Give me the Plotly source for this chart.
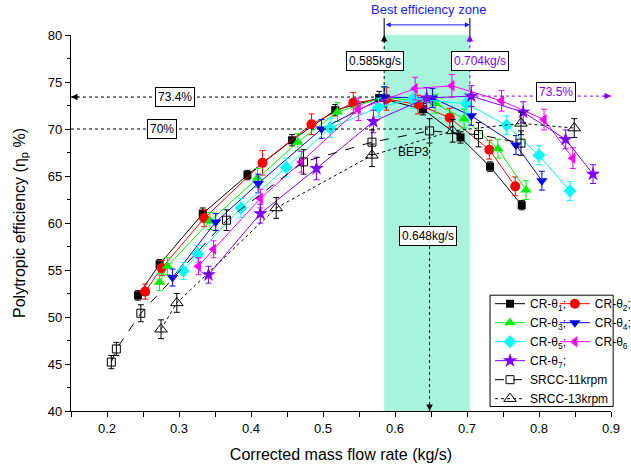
import plotly.graph_objects as go

# ---------------- data ----------------
x_t1 = [0.243, 0.273, 0.333, 0.395, 0.457, 0.517, 0.578, 0.639, 0.691, 0.732, 0.776]
y_t1 = [52.3, 55.6, 61.0, 65.1, 68.8, 72.0, 73.3, 72.1, 69.1, 66.0, 61.9]
e_t1 = [0.5, 0.5, 0.6, 0.5, 0.6, 0.6, 0.7, 0.6, 0.6, 0.5, 0.5]

x_t2 = [0.253, 0.276, 0.335, 0.416, 0.484, 0.542, 0.588, 0.632, 0.676, 0.731, 0.767]
y_t2 = [52.7, 55.2, 60.5, 66.4, 70.5, 72.8, 73.2, 72.6, 71.2, 67.8, 63.9]
e_t2 = [0.8, 0.8, 0.9, 1.3, 1.1, 1.1, 1.2, 1.0, 1.0, 1.0, 1.0]

x_t3 = [0.273, 0.284, 0.343, 0.409, 0.465, 0.520, 0.585, 0.656, 0.696, 0.743, 0.782]
y_t3 = [53.7, 55.4, 60.2, 64.8, 68.6, 71.8, 73.4, 72.7, 71.1, 67.9, 63.5]
e_t3 = [0.9, 0.9, 0.9, 1.0, 0.9, 1.0, 1.0, 1.0, 1.0, 1.0, 1.0]

x_t4 = [0.291, 0.351, 0.410, 0.498, 0.585, 0.652, 0.706, 0.768, 0.804]
y_t4 = [54.2, 60.1, 64.2, 70.0, 73.4, 73.3, 71.4, 68.3, 64.5]
e_t4 = [0.9, 0.9, 1.0, 1.0, 1.1, 1.0, 1.0, 1.0, 1.0]

x_t5 = [0.306, 0.326, 0.386, 0.449, 0.510, 0.577, 0.625, 0.699, 0.755, 0.800, 0.843]
y_t5 = [54.9, 56.7, 61.6, 65.9, 70.1, 72.3, 73.2, 72.7, 70.4, 67.2, 63.4]
e_t5 = [0.9, 0.9, 1.0, 1.0, 1.0, 1.0, 1.0, 1.0, 1.0, 1.0, 1.0]

x_t6 = [0.327, 0.348, 0.413, 0.470, 0.549, 0.628, 0.679, 0.748, 0.807, 0.847]
y_t6 = [55.4, 57.2, 62.6, 66.5, 72.1, 74.3, 74.6, 73.0, 71.0, 66.9]
e_t6 = [0.9, 0.9, 1.0, 1.1, 1.2, 1.2, 1.2, 1.1, 1.1, 1.1]

x_t7 = [0.341, 0.413, 0.491, 0.570, 0.644, 0.706, 0.778, 0.837, 0.875]
y_t7 = [54.5, 61.0, 65.8, 70.8, 73.3, 73.5, 71.8, 68.9, 65.2]
e_t7 = [0.9, 1.0, 1.2, 1.2, 1.1, 1.1, 1.1, 1.0, 1.0]

x_s11 = [0.206, 0.213, 0.247, 0.366, 0.473, 0.568, 0.648, 0.716, 0.775]
y_s11 = [45.2, 46.6, 50.4, 60.3, 66.5, 68.6, 69.8, 69.4, 68.5]
e_s11 = [0.7, 0.7, 0.9, 1.1, 1.3, 1.3, 1.3, 1.3, 1.3]

x_s13 = [0.275, 0.297, 0.435, 0.568, 0.680, 0.775, 0.849]
y_s13 = [48.7, 51.5, 61.6, 67.2, 69.8, 70.6, 70.1]
e_s13 = [1.0, 1.0, 1.1, 1.2, 1.2, 1.2, 1.0]

names = ["CR-θ<sub>1</sub>;", "CR-θ<sub>2</sub>;", "CR-θ<sub>3</sub>;", "CR-θ<sub>4</sub>;",
         "CR-θ<sub>5</sub>;", "CR-θ<sub>6</sub>", "CR-θ<sub>7</sub>;", "SRCC-11krpm", "SRCC-13krpm"]

bep_low, bep_high, bep3 = 0.585, 0.704, 0.648
eff_low, eff_high, eff_bep3 = 73.4, 73.5, 70.0

x_ticks = [0.2, 0.3, 0.4, 0.5, 0.6, 0.7, 0.8, 0.9]
y_ticks = [40, 45, 50, 55, 60, 65, 70, 75, 80]

# ---------------- styling ----------------
FONT = "Arial, Liberation Sans, sans-serif"
PURPLE = "#8000ff"
series = [
    (x_t1, y_t1, e_t1, names[0], "#000000", "square", 8, "solid", "legend"),
    (x_t2, y_t2, e_t2, names[1], "#ff0000", "circle", 10, "solid", "legend2"),
    (x_t3, y_t3, e_t3, names[2], "#00ee00", "triangle-up", 10, "solid", "legend"),
    (x_t4, y_t4, e_t4, names[3], "#0000ff", "triangle-down", 10, "solid", "legend2"),
    (x_t5, y_t5, e_t5, names[4], "#00ffff", "diamond", 10, "solid", "legend"),
    (x_t6, y_t6, e_t6, names[5], "#ff00ff", "triangle-left", 10, "solid", "legend2"),
    (x_t7, y_t7, e_t7, names[6], PURPLE, "star", 11, "solid", "legend"),
    (x_s11, y_s11, e_s11, names[7], "#000000", "square-open", 8, "dash", "legend"),
    (x_s13, y_s13, e_s13, names[8], "#000000", "triangle-up-open", 11, "dot", "legend"),
]

fig = go.Figure()
for xs, ys, es, nm, col, sym, sz, dash, lg in series:
    fig.add_trace(go.Scatter(
        x=xs, y=ys, name=nm, mode="lines+markers", legend=lg,
        line=dict(color=col, width=1, dash=dash),
        marker=dict(symbol=sym, size=sz, color=col, line=dict(width=1 if "open" in sym else 0, color=col)),
        error_y=dict(type="data", array=es, color=col, thickness=1, width=3),
    ))

dot_k = dict(color="black", width=1, dash="dot")
dot_p = dict(color=PURPLE, width=1, dash="dot")
shapes = [
    dict(type="rect", xref="x", yref="paper", x0=bep_low, x1=bep_high, y0=0, y1=1,
         fillcolor="#a8f3dc", line=dict(width=0), layer="below"),
    dict(type="line", xref="x", yref="y", x0=0.15, x1=bep_low, y0=eff_low, y1=eff_low, line=dot_k),
    dict(type="line", xref="x", yref="y", x0=bep_low, x1=bep_low, y0=eff_low, y1=80, line=dot_k),
    dict(type="line", xref="x", yref="y", x0=0.15, x1=bep3, y0=eff_bep3, y1=eff_bep3, line=dot_k),
    dict(type="line", xref="x", yref="y", x0=bep3, x1=bep3, y0=40, y1=eff_bep3, line=dot_k),
    dict(type="line", xref="x", yref="y", x0=bep_high, x1=bep_high, y0=eff_high, y1=80, line=dot_p),
    dict(type="line", xref="x", yref="y", x0=bep_high, x1=0.9, y0=eff_high, y1=eff_high, line=dot_p),
    dict(type="line", xref="x", yref="paper", x0=bep_low, x1=bep_low, y0=1.0, y1=1.045,
         line=dict(color="#202020", width=1.2)),
    dict(type="line", xref="x", yref="paper", x0=bep_high, x1=bep_high, y0=1.0, y1=1.045,
         line=dict(color="#202040", width=1.2)),
    dict(type="rect", xref="paper", yref="paper", x0=0.776, x1=1.004, y0=0.012, y1=0.308,
         fillcolor="white", line=dict(color="black", width=1), layer="above"),
]

def head(x, y, ax, ay, col):
    return dict(x=x, y=y, xref="x", yref="y", ax=ax, ay=ay, text="", showarrow=True,
                arrowhead=2, arrowsize=1.3, arrowwidth=1, arrowcolor=col)

def box(x, y, txt, col="black"):
    return dict(x=x, y=y, xref="x", yref="y", text=txt, showarrow=False,
                xanchor="center", yanchor="middle",
                font=dict(family=FONT, size=12, color=col), bgcolor="white",
                bordercolor="black", borderwidth=1, borderpad=2)

annotations = [
    head(bep_low, 80, 0, 9, "black"),
    head(bep_high, 80, 0, 9, PURPLE),
    head(0.15, eff_low, 9, 0, "black"),
    head(0.9, eff_high, -9, 0, PURPLE),
    head(bep3, 40, 0, -9, "black"),
    box(0.294, eff_low, "73.4%"),
    box(0.276, eff_bep3, "70%"),
    box(0.572, 77.2, "0.585kg/s"),
    box(0.718, 77.2, "0.704kg/s", PURPLE),
    box(0.824, 73.9, "73.5%", PURPLE),
    box(0.646, 58.6, "0.648kg/s"),
    dict(x=0.625, y=67.6, xref="x", yref="y", text="BEP3", showarrow=False,
         xanchor="center", yanchor="middle", font=dict(family=FONT, size=12, color="black")),
    dict(x=(bep_low + bep_high) / 2 + 0.002, y=1.069, xref="x", yref="paper", text="Best efficiency zone",
         showarrow=False, xanchor="center", yanchor="middle",
         font=dict(family=FONT, size=13, color="#1a1aff")),
    dict(x=bep_high, y=1.027, xref="x", yref="paper", ax=bep_low, axref="x", ay=0, ayref="pixel",
         text="", showarrow=True, arrowhead=2, arrowside="end+start", arrowsize=1,
         arrowwidth=1, arrowcolor="#1a1aff"),
]

axis_common = dict(showline=True, linecolor="black", linewidth=1.3, showgrid=False, zeroline=False,
                   tickfont=dict(family=FONT, size=13, color="black"))

fig.update_layout(
    width=631, height=472,
    margin=dict(l=71, r=20, t=35, b=61, autoexpand=False),
    paper_bgcolor="white", plot_bgcolor="white",
    font=dict(family=FONT, color="black"),
    showlegend=True,
    xaxis=dict(range=[0.15, 0.9], tickvals=x_ticks, ticktext=[str(v) for v in x_ticks],
               ticks="outside", ticklen=5, tickcolor="black",
               minor=dict(dtick=0.05, tick0=0.15, ticks="outside", ticklen=5, tickcolor="black"),
               title=dict(text="Corrected mass flow rate (kg/s)", font=dict(family=FONT, size=16), standoff=14),
               **axis_common),
    yaxis=dict(range=[40, 80], tickvals=y_ticks, ticks="outside", ticklen=5, tickcolor="black",
               minor=dict(dtick=2.5, tick0=40, ticks="outside", ticklen=3, tickcolor="black"),
               title=dict(text="Polytropic efficiency (η<sub>p</sub> %)", font=dict(family=FONT, size=16), standoff=18),
               **axis_common),
    xaxis2=dict(overlaying="x", matches="x", side="top", anchor="y", showticklabels=False,
                range=[0.15, 0.9], tickvals=x_ticks, ticks="inside", ticklen=5, tickcolor="black",
                minor=dict(dtick=0.05, tick0=0.15, ticks="inside", ticklen=5, tickcolor="black"),
                **axis_common),
    yaxis2=dict(overlaying="y", matches="y", side="right", anchor="x", showticklabels=False,
                range=[40, 80], tickvals=y_ticks, ticks="inside", ticklen=5, tickcolor="black",
                minor=dict(dtick=2.5, tick0=40, ticks="inside", ticklen=3, tickcolor="black"),
                **axis_common),
    legend=dict(x=0.776, y=0.324, xanchor="left", yanchor="top", bgcolor="rgba(0,0,0,0)",
                borderwidth=0, font=dict(family=FONT, size=12, color="black"),
                itemwidth=30, tracegroupgap=0),
    legend2=dict(x=0.896, y=0.324, xanchor="left", yanchor="top", bgcolor="rgba(0,0,0,0)",
                 borderwidth=0, font=dict(family=FONT, size=12, color="black"),
                 itemwidth=30, tracegroupgap=0),
    shapes=shapes,
    annotations=annotations,
)

fig.write_html("out.html", config={"displayModeBar": False},
               post_script="document.body.style.margin='0';")
